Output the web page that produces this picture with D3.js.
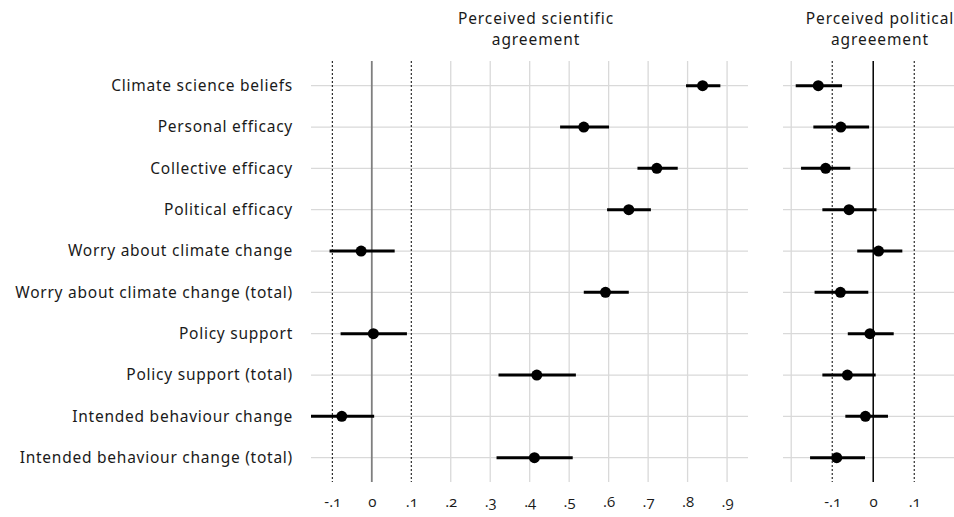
<!DOCTYPE html>
<html>
<head>
<meta charset="utf-8">
<script src="https://cdn.jsdelivr.net/npm/d3@7"></script>
<style>
  html, body { margin: 0; padding: 0; background: #fff; }
  svg { display: block; font-family: 'Noto Sans', sans-serif; }
</style>
</head>
<body>
<svg id="chart" width="954" height="517"></svg>
<script>
const outcomes = [
  'Climate science beliefs',
  'Personal efficacy',
  'Collective efficacy',
  'Political efficacy',
  'Worry about climate change',
  'Worry about climate change (total)',
  'Policy support',
  'Policy support (total)',
  'Intended behaviour change',
  'Intended behaviour change (total)',
];

// perceived scientific agreement: estimate, lower, upper
const sciEst = [0.838, 0.537, 0.722, 0.651, -0.027, 0.592, 0.004, 0.418, -0.076, 0.412];
const sciLo  = [0.796, 0.477, 0.673, 0.596, -0.107, 0.537, -0.079, 0.321, -0.160, 0.316];
const sciHi  = [0.883, 0.601, 0.775, 0.707, 0.058, 0.651, 0.089, 0.517, 0.006, 0.509];

// perceived political agreement: estimate, lower, upper
const polEst = [-0.134, -0.079, -0.116, -0.059, 0.013, -0.080, -0.008, -0.063, -0.019, -0.089];
const polLo  = [-0.189, -0.146, -0.176, -0.124, -0.039, -0.143, -0.062, -0.124, -0.068, -0.154];
const polHi  = [-0.076, -0.010, -0.056, 0.008, 0.071, -0.012, 0.050, 0.006, 0.036, -0.020];

const sciTicks = [-0.1, 0, 0.1, 0.2, 0.3, 0.4, 0.5, 0.6, 0.7, 0.8, 0.9];
const sciTickLabels = ['-.1', '0', '.1', '.2', '.3', '.4', '.5', '.6', '.7', '.8', '.9'];
const polTicks = [-0.1, 0, 0.1];
const polTickLabels = ['-.1', '0', '.1'];
const polGrid = [-0.2];

const sciTitle = ['Perceived scientific', 'agreement'];
const polTitle = ['Perceived political', 'agreeement'];

const FONT = "'Noto Sans', sans-serif";
const TICK_FONT = "'Open Sans', 'Noto Sans', sans-serif";
const svg = d3.select('#chart');
const TOP = 61, BOTTOM = 482;

const y = d3.scalePoint().domain(outcomes).range([85.7, 457.7]);

const panels = [
  {
    x: d3.scaleLinear().domain([-0.154, 0.953]).range([311, 748]),
    est: sciEst, lo: sciLo, hi: sciHi,
    grid: sciTicks.filter(t => Math.abs(t) > 0.15),
    ticks: sciTicks, labels: sciTickLabels,
    zeroColor: '#7f7f7f', zeroWidth: 1.8,
    title: sciTitle, titleX: 536,
  },
  {
    x: d3.scaleLinear().domain([-0.22, 0.197]).range([783, 954]),
    est: polEst, lo: polLo, hi: polHi,
    grid: polGrid,
    ticks: polTicks, labels: polTickLabels,
    zeroColor: '#000', zeroWidth: 1.5,
    title: polTitle, titleX: 880,
  },
];

panels.forEach(p => {
  const g = svg.append('g');
  const [x0, x1] = p.x.range();
  const clipId = 'clip' + x0;
  svg.append('clipPath').attr('id', clipId)
    .append('rect').attr('x', x0).attr('y', 0).attr('width', x1 - x0).attr('height', 517);
  g.attr('clip-path', `url(#${clipId})`);

  // horizontal grid
  g.selectAll('.hgrid').data(outcomes).join('line')
    .attr('x1', x0).attr('x2', x1)
    .attr('y1', d => y(d)).attr('y2', d => y(d))
    .attr('stroke', '#d9d9d9').attr('stroke-width', 1.3);

  // vertical grid
  g.selectAll('.vgrid').data(p.grid).join('line')
    .attr('x1', d => p.x(d)).attr('x2', d => p.x(d))
    .attr('y1', TOP).attr('y2', BOTTOM)
    .attr('stroke', '#d9d9d9').attr('stroke-width', 1.3);

  // dotted reference lines at +/- .1
  g.selectAll('.ref').data([-0.1, 0.1]).join('line')
    .attr('x1', d => p.x(d)).attr('x2', d => p.x(d))
    .attr('y1', TOP).attr('y2', BOTTOM)
    .attr('stroke', '#000').attr('stroke-width', 1)
    .attr('stroke-dasharray', '2,2');

  // zero line
  g.append('line')
    .attr('x1', p.x(0)).attr('x2', p.x(0))
    .attr('y1', TOP).attr('y2', BOTTOM)
    .attr('stroke', p.zeroColor).attr('stroke-width', p.zeroWidth);

  // confidence intervals
  g.selectAll('.ci').data(outcomes).join('line')
    .attr('x1', (d, i) => p.x(p.lo[i])).attr('x2', (d, i) => p.x(p.hi[i]))
    .attr('y1', d => y(d)).attr('y2', d => y(d))
    .attr('stroke', '#000').attr('stroke-width', 3);

  // point estimates
  g.selectAll('.pt').data(outcomes).join('circle')
    .attr('cx', (d, i) => p.x(p.est[i])).attr('cy', d => y(d))
    .attr('r', 5.5).attr('fill', '#000');

  // x axis labels
  svg.append('g')
    .attr('transform', `translate(0,${BOTTOM})`)
    .call(d3.axisBottom(p.x).tickValues(p.ticks).tickSize(0).tickPadding(14)
      .tickFormat((d, i) => p.labels[i]))
    .call(s => s.select('.domain').remove())
    .call(s => s.selectAll('.tick text')
      .attr('font-family', TICK_FONT)
      .style('font-feature-settings', '"onum" 1')
      .attr('font-size', 15).attr('fill', '#1a1a1a'));

  // panel title
  svg.append('text')
    .attr('x', p.titleX).attr('y', 24)
    .attr('text-anchor', 'middle')
    .attr('font-size', 15.5).attr('letter-spacing', 0.9).attr('fill', '#1a1a1a')
    .selectAll('tspan').data(p.title).join('tspan')
    .attr('x', p.titleX).attr('dy', (d, i) => i ? 21 : 0)
    .text(d => d);
});

// row labels
svg.append('g').selectAll('text').data(outcomes).join('text')
  .attr('x', 293).attr('y', d => y(d)).attr('dy', '0.35em')
  .attr('text-anchor', 'end')
  .attr('font-size', 15.5).attr('letter-spacing', 0.75).attr('fill', '#1a1a1a')
  .text(d => d);
</script>
</body>
</html>
